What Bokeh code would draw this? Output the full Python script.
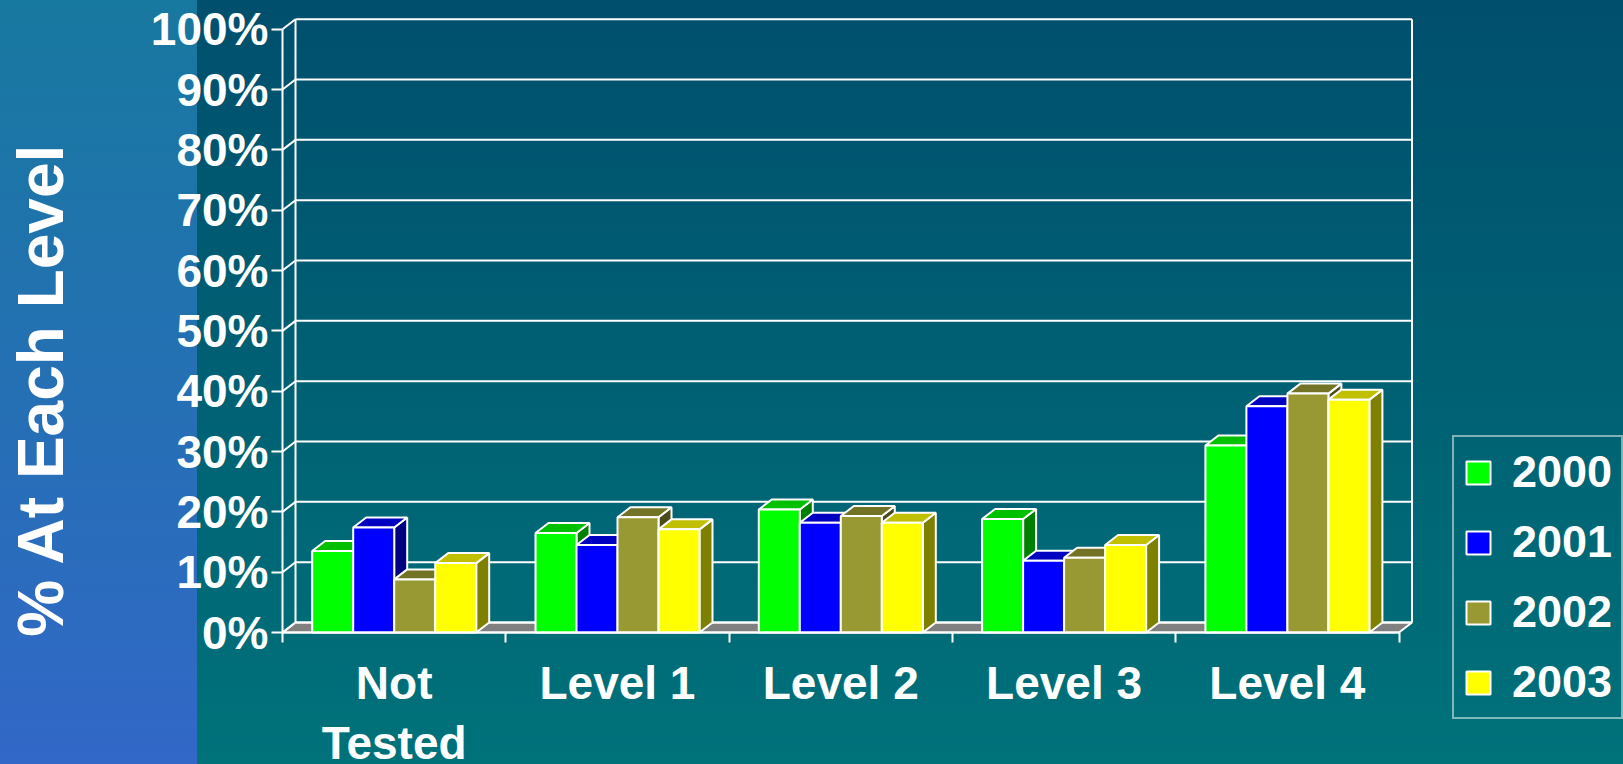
import math
from bokeh.plotting import figure
from bokeh.models import (FixedTicker, PrintfTickFormatter, Legend, LegendItem,
                          Label, Range1d)
from bokeh.embed import file_html
from bokeh.resources import INLINE

# ---------------- data ----------------
categories = ["Not\nTested", "Level 1", "Level 2", "Level 3", "Level 4"]
years = ["2000", "2001", "2002", "2003"]
v2000 = [13.5, 16.5, 20.4, 18.8, 31.0]
v2001 = [17.4, 14.5, 18.2, 11.9, 37.5]
v2002 = [8.8, 19.1, 19.3, 12.4, 39.6]
v2003 = [11.5, 17.1, 18.2, 14.5, 38.6]
y_ticks = [0, 10, 20, 30, 40, 50, 60, 70, 80, 90, 100]

series = [v2000, v2001, v2002, v2003]
front_colors = ["#00FF00", "#0000FF", "#999933", "#FFFF00"]
top_colors = ["#00C000", "#0000C0", "#737326", "#C0C000"]
side_colors = ["#008000", "#000080", "#4C4C1A", "#808000"]

# ---------------- layout (pixels) ----------------
W, H = 1623, 764
FL, FB = 282, 632   # origin of the chart (front y axis x, front x axis y) in px
CW = 223.3          # px per category
YS = 6.033          # px per percent
n = len(categories)
DX = 13 / CW        # depth offset in data units
DY = 10 / YS
GROUP_OFF = 29.7 / CW
BAR_W = 41.0 / CW

font = "Liberation Sans"
WHITE = "#FFFFFF"

p = figure(width=W, height=H,
           x_range=Range1d(-FL / CW, (W - FL) / CW),
           y_range=Range1d(-(H - FB) / YS, FB / YS),
           output_backend="svg", toolbar_location=None,
           min_border_left=0, min_border_right=0,
           min_border_top=0, min_border_bottom=0)
p.background_fill_alpha = 0
p.border_fill_alpha = 0
p.outline_line_color = None
p.grid.visible = False
p.styles = {
    "background": ("linear-gradient(to bottom, #004F6D, #00727A) 197px 0 / 1426px 100% no-repeat, "
                   "linear-gradient(to bottom, #17789F, #3268C8)"),
}

# floor
p.patch([0, n, n + DX, DX], [0, 0, DY, DY], fill_color="#808080",
        line_color=WHITE, line_width=2)

# back wall gridlines, side-wall diagonals, wall edges
p.segment(x0=[DX] * len(y_ticks), y0=[t + DY for t in y_ticks],
          x1=[n + DX] * len(y_ticks), y1=[t + DY for t in y_ticks],
          line_color=WHITE, line_width=2)
p.segment(x0=[0] * len(y_ticks), y0=y_ticks,
          x1=[DX] * len(y_ticks), y1=[t + DY for t in y_ticks],
          line_color=WHITE, line_width=2)
p.segment(x0=[DX, n + DX], y0=[DY, DY], x1=[DX, n + DX],
          y1=[y_ticks[-1] + DY] * 2, line_color=WHITE, line_width=2)

# bars
front_renderers = []
for i, vals in enumerate(series):
    lefts = [c + GROUP_OFF + i * BAR_W for c in range(n)]
    rights = [l + BAR_W for l in lefts]
    p.patches(xs=[[r, r + DX, r + DX, r] for r in rights],
              ys=[[0, DY, v + DY, v] for v in vals],
              fill_color=side_colors[i], line_color=WHITE, line_width=2)
    p.patches(xs=[[l, r, r + DX, l + DX] for l, r in zip(lefts, rights)],
              ys=[[v, v, v + DY, v + DY] for v in vals],
              fill_color=top_colors[i], line_color=WHITE, line_width=2)
    fr = p.quad(left=lefts, right=rights, bottom=0, top=vals,
                fill_color=front_colors[i], line_color=WHITE, line_width=2)
    front_renderers.append(fr)

# y axis
ya = p.yaxis[0]
ya.fixed_location = 0
ya.ticker = FixedTicker(ticks=y_ticks)
ya.formatter = PrintfTickFormatter(format="%d%%")
ya.bounds = (0, 100)
ya.axis_line_color = WHITE
ya.axis_line_width = 2
ya.major_tick_line_color = WHITE
ya.major_tick_line_width = 2
ya.major_tick_out = 11
ya.major_tick_in = 0
ya.minor_tick_line_color = None
ya.major_label_standoff = 3
ya.major_label_text_color = WHITE
ya.major_label_text_font = font
ya.major_label_text_font_style = "bold"
ya.major_label_text_font_size = "46px"

# x axis
xa = p.xaxis[0]
xa.fixed_location = 0
xa.ticker = FixedTicker(ticks=[c + 0.5 for c in range(n)],
                        minor_ticks=list(range(n + 1)))
xa.major_label_overrides = {c + 0.5: categories[c] for c in range(n)}
xa.bounds = (0, n)
xa.axis_line_color = WHITE
xa.axis_line_width = 2
xa.major_tick_line_color = None
xa.major_tick_out = 0
xa.major_tick_in = 0
xa.minor_tick_line_color = WHITE
xa.minor_tick_line_width = 2
xa.minor_tick_out = 10
xa.minor_tick_in = 0
xa.major_label_standoff = 14
xa.major_label_text_color = WHITE
xa.major_label_text_font = font
xa.major_label_text_font_style = "bold"
xa.major_label_text_font_size = "46px"
xa.major_label_text_line_height = 1.17

# y title
title = Label(x=(40 - FL) / CW, y=(FB - 389) / YS, text="% At Each Level",
              angle=math.pi / 2, text_align="center", text_baseline="middle",
              text_color=WHITE, text_font=font, text_font_style="bold",
              text_font_size="64px")
p.add_layout(title)

# legend
legend = Legend(items=[LegendItem(label=y, renderers=[r]) for y, r in zip(years, front_renderers)],
                location=(1452, H - 719),
                orientation="vertical", margin=0, padding=9, spacing=18,
                glyph_width=30, glyph_height=29, label_standoff=19,
                label_text_color=WHITE, label_text_font=font,
                label_text_font_style="bold", label_text_font_size="45px",
                border_line_color=WHITE, border_line_width=2,
                background_fill_alpha=0)
p.add_layout(legend)

open("out.html", "w").write(file_html(p, INLINE))
